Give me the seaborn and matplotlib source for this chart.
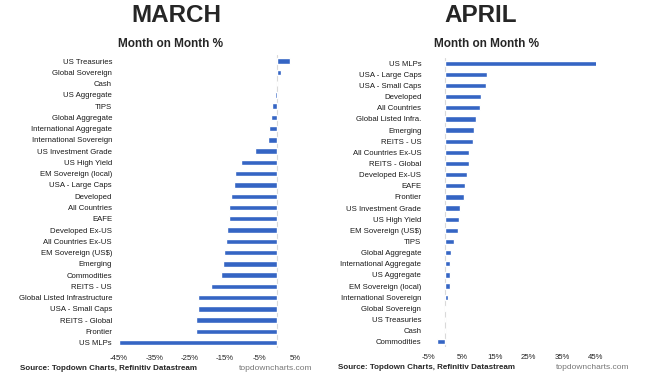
import matplotlib
matplotlib.use("Agg")
import matplotlib.pyplot as plt
import seaborn as sns
import pandas as pd

# March month-on-month returns (%)
march_assets = [
    "US Treasuries", "Global Sovereign", "Cash", "US Aggregate", "TIPS",
    "Global Aggregate", "International Aggregate", "International Sovereign",
    "US Investment Grade", "US High Yield", "EM Sovereign (local)",
    "USA - Large Caps", "Developed", "All Countries", "EAFE",
    "Developed Ex-US", "All Countries Ex-US", "EM Sovereign (US$)",
    "Emerging", "Commodities", "REITS - US", "Global Listed Infrastructure",
    "USA - Small Caps", "REITS - Global", "Frontier", "US MLPs",
]
march_values = [
    3.6, 1.0, 0.0, -0.6, -1.6, -1.8, -2.4, -2.6, -6.5, -10.3, -12.0,
    -12.3, -13.3, -13.7, -13.8, -14.4, -14.7, -15.2, -15.5, -16.0, -18.9,
    -22.5, -22.5, -23.0, -23.0, -45.0,
]

# April month-on-month returns (%)
april_assets = [
    "US MLPs", "USA - Large Caps", "USA - Small Caps", "Developed",
    "All Countries", "Global Listed Infra.", "Emerging", "REITS - US",
    "All Countries Ex-US", "REITS - Global", "Developed Ex-US", "EAFE",
    "Frontier", "US Investment Grade", "US High Yield", "EM Sovereign (US$)",
    "TIPS", "Global Aggregate", "International Aggregate", "US Aggregate",
    "EM Sovereign (local)", "International Sovereign", "Global Sovereign",
    "US Treasuries", "Cash", "Commodities",
]
april_values = [
    47.2, 12.4, 12.3, 10.6, 10.3, 9.1, 8.7, 8.3, 7.2, 7.1, 6.6, 6.1,
    5.8, 4.4, 4.2, 3.8, 2.7, 1.7, 1.4, 1.4, 1.4, 0.9, 0.4, 0.1, 0.0, -2.5,
]

march_ticks = [-45, -35, -25, -15, -5, 5]
april_ticks = [-5, 5, 15, 25, 35, 45]

sns.set_style("white")
plt.rcParams["font.family"] = ["Liberation Sans", "DejaVu Sans"]

W, H = 652, 382
fig = plt.figure(figsize=(W / 100, H / 100), dpi=100)
bar_color = "#3565c4"


def px_axes(x0, x1, y0, y1):
    return fig.add_axes([x0 / W, 1 - y1 / H, (x1 - x0) / W, (y1 - y0) / H])


def panel(ax, assets, values, ticks):
    df = pd.DataFrame({"asset": assets, "value": values})
    sns.barplot(data=df, x="value", y="asset", color=bar_color, width=0.48,
                saturation=1, ax=ax)
    ax.set_xlim(ticks[0], ticks[-1])
    ax.set_ylim(len(assets) - 0.5, -0.5)
    ax.set_xticks(ticks)
    ax.set_xticklabels([f"{t}%" for t in ticks], fontsize=5.6, color="#222222")
    ax.tick_params(axis="y", labelsize=5.6, length=0, pad=5, colors="#1a1a1a")
    ax.tick_params(axis="x", length=0, pad=5)
    ax.set_xlabel("")
    ax.set_ylabel("")
    for s in ax.spines.values():
        s.set_visible(False)
    ax.axvline(0, color="#d9d9d9", lw=0.8, zorder=0)


ax1 = px_axes(119, 295, 55.4, 348.3)
panel(ax1, march_assets, march_values, march_ticks)

ax2 = px_axes(428.3, 595.7, 57.7, 347.3)
panel(ax2, april_assets, april_values, april_ticks)

fig.text(176 / W, 1 - 15 / H, "MARCH", ha="center", va="center",
         fontsize=17.5, fontweight="bold")
fig.text(481 / W, 1 - 15 / H, "APRIL", ha="center", va="center",
         fontsize=17.5, fontweight="bold")
fig.text(170 / W, 1 - 44 / H, "Month on Month %", ha="center", va="center",
         fontsize=8.5, fontweight="bold")
fig.text(487 / W, 1 - 44 / H, "Month on Month %", ha="center", va="center",
         fontsize=8.5, fontweight="bold")

fig.text(20.5 / W, 1 - 368.5 / H, "Source: Topdown Charts, Refinitiv Datastream",
         ha="left", va="center", fontsize=5.8, fontweight="bold")
fig.text(338.5 / W, 1 - 367.5 / H, "Source: Topdown Charts, Refinitiv Datastream",
         ha="left", va="center", fontsize=5.8, fontweight="bold")
fig.text(239 / W, 1 - 368.5 / H, "topdowncharts.com", ha="left", va="center",
         fontsize=6, color="#777777")
fig.text(556 / W, 1 - 367.5 / H, "topdowncharts.com", ha="left", va="center",
         fontsize=6, color="#777777")

fig.savefig("out.png", dpi=100)
